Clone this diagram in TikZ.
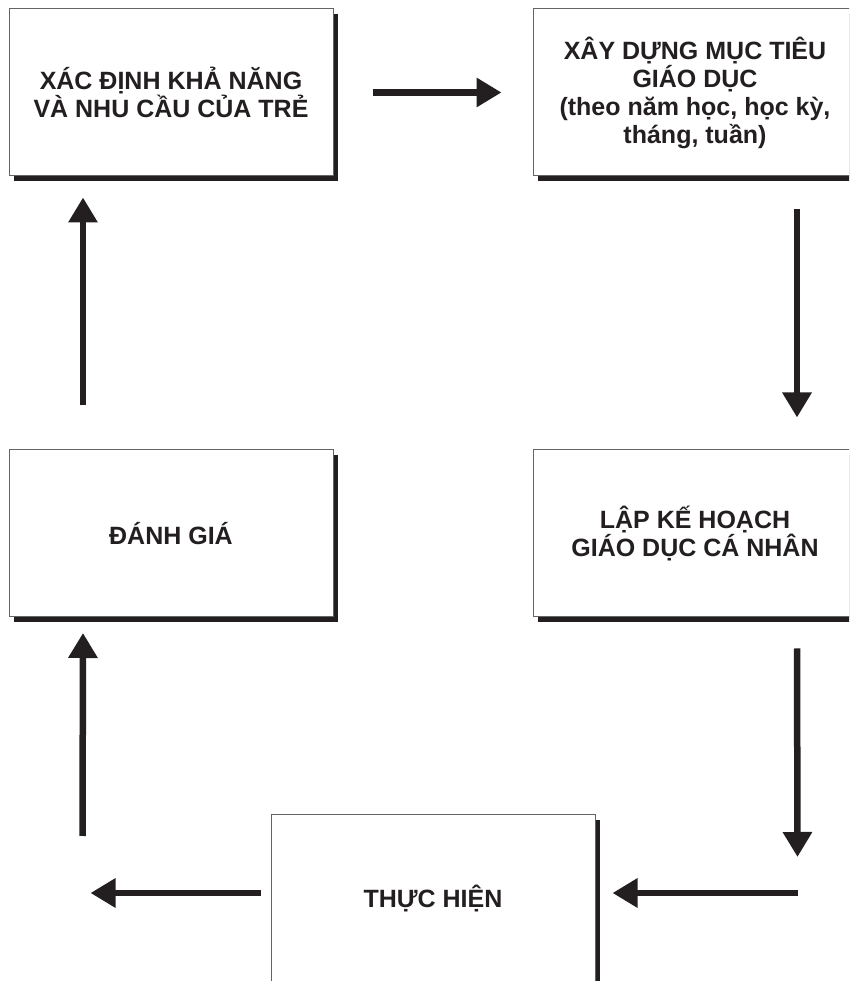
\documentclass[tikz,border=0pt]{standalone}
\usepackage{fontspec}
\setmainfont{Liberation Sans}
\usetikzlibrary{positioning,arrows.meta,shadows}
\definecolor{FrameGray}{RGB}{100,100,100}
\definecolor{InkBlack}{RGB}{35,31,32}
\tikzset{
	box/.style={draw=FrameGray,line width=1pt,fill=white,minimum width=324pt,minimum height=167pt,
		inner sep=0pt,align=center,text=InkBlack,font=\bfseries\fontsize{25}{28}\selectfont,
		drop shadow={shadow xshift=5pt,shadow yshift=-5pt,fill=InkBlack,opacity=1}},
	flow/.style={draw=InkBlack,line width=6.5pt,-{Triangle[length=25pt,width=28pt]}},
}

\begin{document}
\begin{tikzpicture}[x=1pt,y=1pt]
			\clip (0,0) rectangle (849,981);
			\node[box] (khanang) at (171,888.5) {XÁC ĐỊNH KHẢ NĂNG\\VÀ NHU CẦU CỦA TRẺ};
			\node[box] (muctieu) at (695,888.5) {XÂY DỰNG MỤC TIÊU\\GIÁO DỤC\\(theo năm học, học kỳ,\\tháng, tuần)};
			\node[box] (danhgia) at (171,447.5) {ĐÁNH GIÁ};
			\node[box] (kehoach) at (695,447.5) {LẬP KẾ HOẠCH\\GIÁO DỤC CÁ NHÂN};
			\node[box] (thuchien) at (433,82.5) {THỰC HIỆN};
			\coordinate (gocphai) at ([xshift=202pt,yshift=5.5pt]thuchien.east);
			\coordinate (goctrai) at ([xshift=-188pt,yshift=5.5pt]thuchien.west);
			\draw[flow] ([xshift=39pt]khanang.east) -- ([xshift=-31pt]muctieu.west);
			\draw[flow] ([xshift=102pt,yshift=-33pt]muctieu.south) -- ([xshift=102pt,yshift=32pt]kehoach.north);
			\draw[flow] ([xshift=102pt,yshift=-31pt]kehoach.south) -- ([yshift=36pt]gocphai);
			\draw[flow] (gocphai) -- ([xshift=17pt,yshift=5.5pt]thuchien.east);
			\draw[flow] ([xshift=-10pt,yshift=5.5pt]thuchien.west) -- ([xshift=-180pt,yshift=5.5pt]thuchien.west);
			\draw[flow] ([yshift=57pt]goctrai) -- ([xshift=-88pt,yshift=-15.5pt]danhgia.south);
			\draw[flow] ([xshift=-88pt,yshift=44pt]danhgia.north) -- ([xshift=-88pt,yshift=-21pt]khanang.south);
		\end{tikzpicture}
\end{document}
